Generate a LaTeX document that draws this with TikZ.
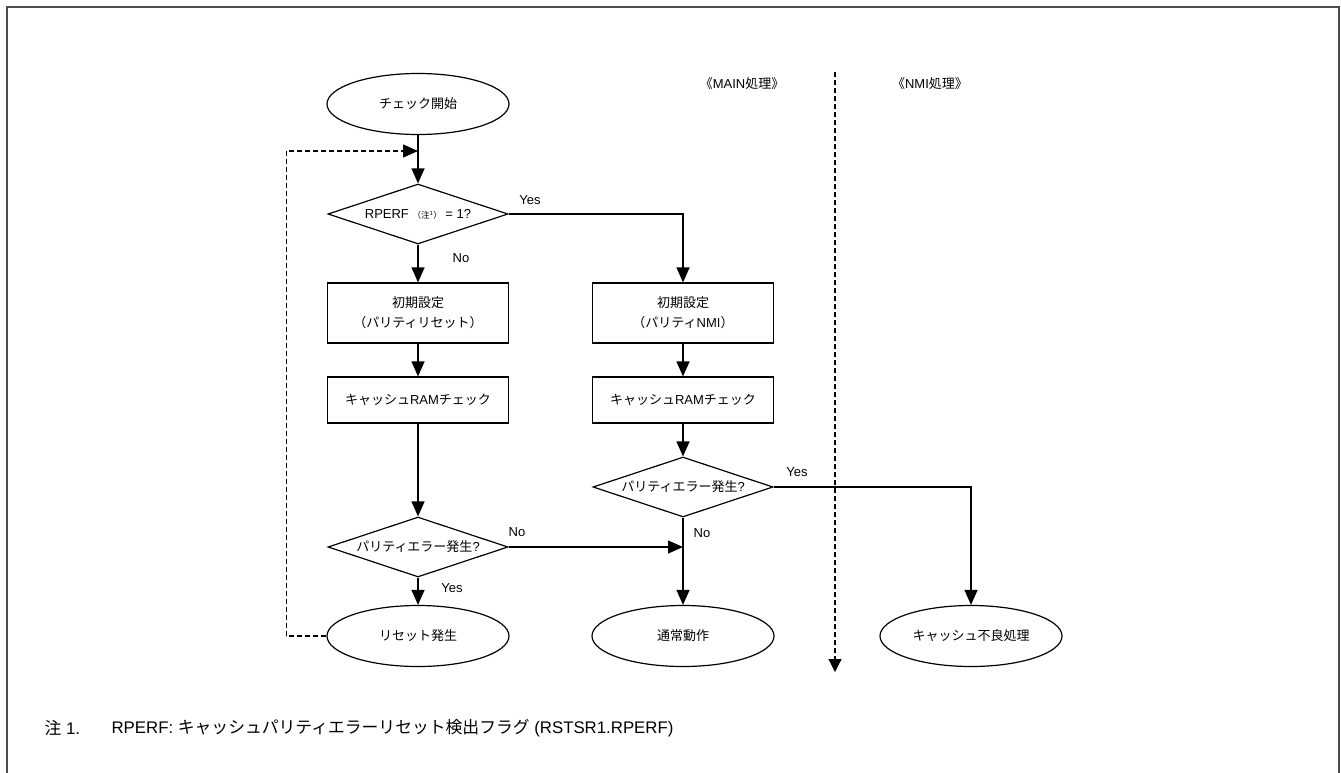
\documentclass[tikz,border=0pt]{standalone}
\usepackage{fontspec}
\setmainfont{Liberation Sans}
\newfontfamily\jafont{Noto Sans CJK JP}
\newcommand{\ja}[1]{{\jafont #1}}
\usetikzlibrary{shapes.geometric, arrows.meta}
\tikzset{every node/.append style={font=\fontsize{13}{15}\selectfont}}
\tikzset{
  term/.style={draw, ellipse, minimum width=182pt, minimum height=61pt, inner sep=0pt},
  proc/.style={draw, rectangle, minimum width=181pt, inner sep=0pt, align=center},
  test/.style={draw, diamond, aspect=3, minimum width=180pt, minimum height=60pt, inner sep=0pt},
  flow/.style={-{Triangle[length=15pt, width=13pt]}},
  back/.style={dash pattern=on 5pt off 3pt},
}

\begin{document}
\begin{tikzpicture}[x=1pt, y=-1pt, line width=1.2pt]
    \useasboundingbox (0,0) rectangle (1341,773);
    \draw[line width=1.5pt, black!70] (7,780) -- (7,7) -- (1339,7) -- (1339,780);
    % headings of the two sides
    \node (mainhdr) at (742,84) {\ja{《}MAIN\ja{処理》}};
    \node (nmihdr) at (930,84) {\ja{《}NMI\ja{処理》}};
    \coordinate (septop) at (835,72);
    \coordinate (sepbot) at (835,672);
    \draw[back, -{Triangle[length=13pt, width=13pt]}] (septop) -- (sepbot);
    % MAIN side
    \node[term] (start) at (418,104) {\ja{チェック開始}};
    \node[test] (q1) at (418,214) {RPERF {\fontsize{8.5}{9}\selectfont\ja{（注}\textsuperscript{1}\ja{）}} = 1?};
    \node[proc, minimum height=60pt, font=\fontsize{13}{20}\selectfont] (initL) at (418,313) {\ja{初期設定}\\\ja{（パリティリセット）}};
    \node[proc, minimum height=46pt] (ramL) at (418,400) {\ja{キャッシュ}RAM\ja{チェック}};
    \node[test] (q2L) at (418,547) {\ja{パリティエラー発生}?};
    \node[term] (reset) at (418,636) {\ja{リセット発生}};
    \node[proc, minimum height=60pt, font=\fontsize{13}{20}\selectfont] (initR) at (683,313) {\ja{初期設定}\\\ja{（パリティ}NMI\ja{）}};
    \node[proc, minimum height=46pt] (ramR) at (683,400) {\ja{キャッシュ}RAM\ja{チェック}};
    \node[test] (q2R) at (683,487) {\ja{パリティエラー発生}?};
    \node[term] (normal) at (683,636) {\ja{通常動作}};
    % NMI side
    \node[term] (fail) at (971,636) {\ja{キャッシュ不良処理}};
    % branch labels
    \node (yes1) at (530,200) {Yes};
    \node (no1) at (461,258) {No};
    \node (no2) at (517,532) {No};
    \node (yes2) at (452,588) {Yes};
    \node (yes3) at (797,472) {Yes};
    \node (no3) at (702,533) {No};
    % flow
    \coordinate (merge) at (418,151);
    \coordinate (join) at (q2L.east -| q2R.south);
    \draw[flow] (start) -- (q1);
    \draw[flow] (q1) -- (initL);
    \draw[flow] (initL) -- (ramL);
    \draw[flow] (ramL) -- (q2L);
    \draw[flow] (q2L) -- (reset);
    \draw[flow] (q1.east) -| (initR.north);
    \draw[flow] (initR) -- (ramR);
    \draw[flow] (ramR) -- (q2R);
    \draw[flow] (q2R) -- (normal);
    \draw[flow] (q2L.east) -- (join);
    \draw[flow] (q2R.east) -| (fail.north);
    \draw[back, flow] (reset.west) -- ++(-40,0) |- (merge);
    % footnote
    \node[anchor=west, inner sep=0pt, font=\fontsize{16.8}{20}\selectfont] (notenum) at (44,728) {\ja{注} 1.};
    \node[anchor=west, inner sep=0pt, font=\fontsize{16.8}{20}\selectfont] (notetext) at (111,728) {RPERF: \ja{キャッシュパリティエラーリセット検出フラグ} (RSTSR1.RPERF)};
\end{tikzpicture}
\end{document}
